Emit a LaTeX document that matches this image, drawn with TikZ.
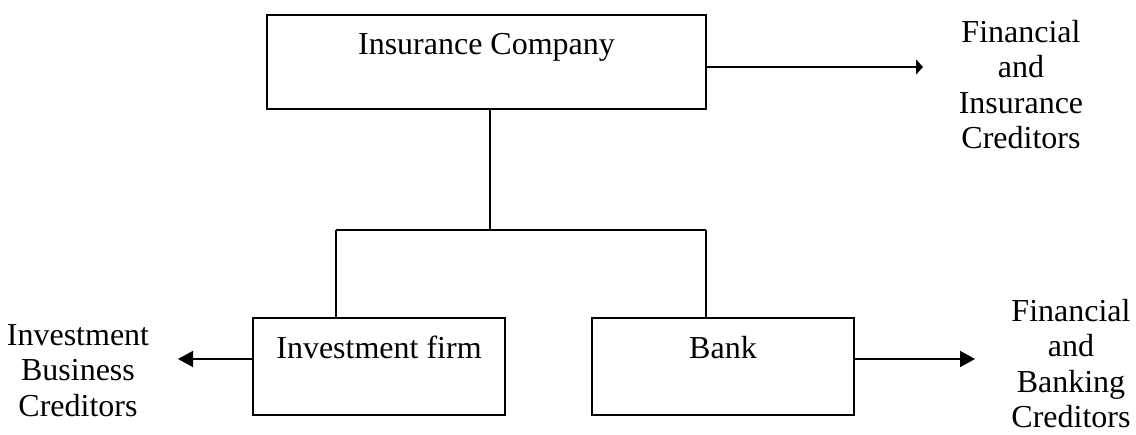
\documentclass[tikz,border=0pt]{standalone}
\usepackage{fontspec}
\setmainfont{Liberation Serif}
\usetikzlibrary{arrows.meta}
\begin{document}
\begin{tikzpicture}[x=1pt,y=-1pt,
  every node/.style={font=\fontsize{32}{35.5}\selectfont},
  box/.style={draw, line width=1.6pt, inner xsep=0pt, inner ysep=0pt, anchor=base},
  lab/.style={align=center, inner sep=0pt},
  wire/.style={line width=1.6pt},
  bigarrow/.style={line width=1.6pt, -{Triangle[length=15pt,width=16pt]}},
  smallarrow/.style={line width=1.6pt, -{Triangle[length=7pt,width=15pt]}}]
\useasboundingbox (0,0) rectangle (1136,435);

% boxes
\node[box, minimum width=439pt, text height=40pt, text depth=54pt] (ins) at (486.5,55) {Insurance Company};
\node[box, minimum width=252pt, text height=41pt, text depth=56pt] (inv) at (379,359) {Investment firm};
\node[box, minimum width=262pt, text height=41pt, text depth=56pt] (bank) at (723,359) {Bank};

% creditor labels
\node[lab] (fic) at (1021,84.5) {Financial\\and\\Insurance\\Creditors};
\node[lab] (ibc) at (78,370.5) {Investment\\Business\\Creditors};
\node[lab] (fbc) at (1071,363.5) {Financial\\and\\Banking\\Creditors};

% tree connectors
\coordinate (j) at (490,230);
\coordinate (jl) at (336,230);
\coordinate (jr) at (706,230);
\draw[wire] (ins.south -| j) -- (j);
\draw[wire] (jl) -- (jr);
\draw[wire] (jl) -- (inv.north -| jl);
\draw[wire] (jr) -- (bank.north -| jr);

% arrows to creditors
\coordinate (t1) at (923,67);
\coordinate (t2) at (178,359);
\coordinate (t3) at (975,359);
\draw[smallarrow] (ins.east |- t1) -- (t1);
\draw[bigarrow] (inv.west |- t2) -- (t2);
\draw[bigarrow] (bank.east |- t3) -- (t3);
\end{tikzpicture}
\end{document}
